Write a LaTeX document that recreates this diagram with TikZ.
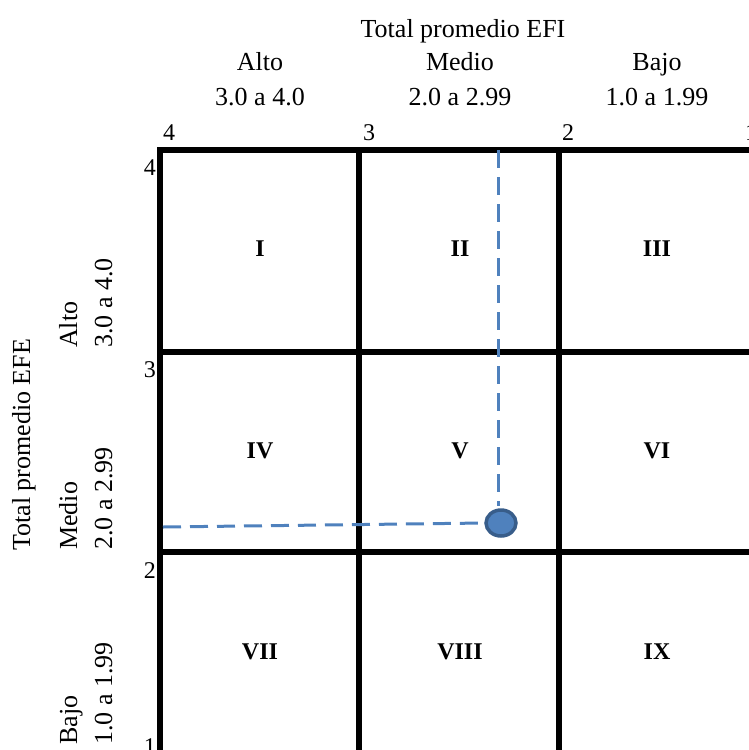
\documentclass[tikz,border=0pt]{standalone}
\usepackage{fontspec}
\setmainfont{Liberation Serif}
\usetikzlibrary{shapes.geometric}
\definecolor{dashblue}{HTML}{4F81BD}
\definecolor{dotedge}{HTML}{385D8A}
\begin{document}
\begin{tikzpicture}[x=1pt,y=-1pt,
  grid/.style={line width=5.5pt, line cap=rect},
  lbl/.style={font=\fontsize{26}{30}\selectfont, inner sep=0pt, anchor=base},
  vlbl/.style={font=\fontsize{26}{30}\selectfont, inner sep=0pt, rotate=90, anchor=base west},
  rom/.style={font=\fontsize{24}{28}\selectfont\bfseries, inner sep=0pt},
  tick/.style={font=\fontsize{24}{28}\selectfont, inner sep=0pt, anchor=base west},
  ltick/.style={font=\fontsize{24}{28}\selectfont, inner sep=0pt, anchor=base east},
  guide/.style={dashblue, line width=3pt, dash pattern=on 18pt off 9pt}]
\useasboundingbox (0,0) rectangle (748,750);
% grid
\draw[grid] (160,150) -- (760,150);
\draw[grid] (160,352) -- (760,352);
\draw[grid] (160,552) -- (760,552);
\draw[grid] (160,150) -- (160,760);
\draw[grid] (359,150) -- (359,760);
\draw[grid] (559,150) -- (559,760);
% top labels
\node[lbl] (efi) at (463,37) {Total promedio EFI};
\node[lbl] (ca) at (260,70) {Alto};
\node[lbl] (cm) at (460,70) {Medio};
\node[lbl] (cb) at (657,70) {Bajo};
\node[lbl] (cra) at (260,105) {3.0 a 4.0};
\node[lbl] (crm) at (460,105) {2.0 a 2.99};
\node[lbl] (crb) at (657,105) {1.0 a 1.99};
% top ticks
\node[tick] (t4) at (163,140) {4};
\node[tick] (t3) at (363,140) {3};
\node[tick] (t2) at (562,140) {2};
\node[tick] (t1) at (745,140) {1};
% left labels
\node[vlbl] (efe) at (30,551) {Total promedio EFE};
\node[vlbl] (ra) at (77,348) {Alto};
\node[vlbl] (rra) at (112,348) {3.0 a 4.0};
\node[vlbl] (rm) at (77,550) {Medio};
\node[vlbl] (rrm) at (112,550) {2.0 a 2.99};
\node[vlbl] (rb) at (77,745) {Bajo};
\node[vlbl] (rrb) at (112,745) {1.0 a 1.99};
% left ticks
\node[ltick] (l4) at (156,175) {4};
\node[ltick] (l3) at (156,377) {3};
\node[ltick] (l2) at (156,578) {2};
\node[ltick] (l1) at (156,754) {1};
% roman numerals
\node[rom] (c1) at (260,249) {I};
\node[rom] (c2) at (460,249) {II};
\node[rom] (c3) at (657,249) {III};
\node[rom] (c4) at (260,451) {IV};
\node[rom] (c5) at (460,451) {V};
\node[rom] (c6) at (657,451) {VI};
\node[rom] (c7) at (260,652) {VII};
\node[rom] (c8) at (460,652) {VIII};
\node[rom] (c9) at (657,652) {IX};
% point and guides
\node[ellipse, draw=dotedge, line width=3.5pt, fill=dashblue, minimum width=30pt, minimum height=26pt, inner sep=0pt] (pt) at (501,523) {};
\coordinate (topend) at (498,150);
\coordinate (leftend) at (163,527);
\draw[guide] (topend) -- (498,506);
\draw[guide] (leftend) -- (pt.west);
\end{tikzpicture}
\end{document}
